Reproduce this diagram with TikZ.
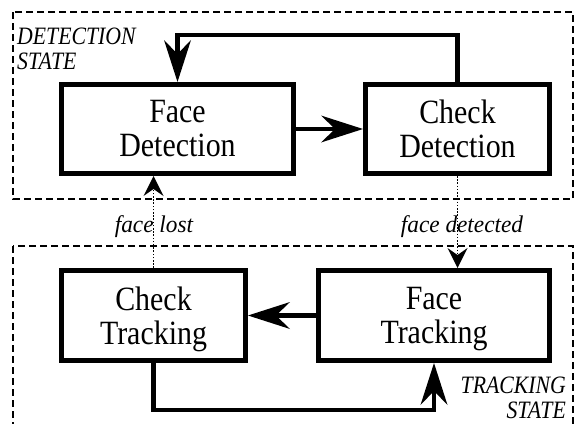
\documentclass[tikz,border=0pt]{standalone}
\usepackage{fontspec}
\setmainfont{Liberation Serif}
% slightly condensed cuts of the serif face for the block and region texts
\newfontfamily\blockfont[FakeStretch=0.88]{Liberation Serif}
\newfontfamily\regionfont[FakeStretch=0.87]{Liberation Serif}
\newfontfamily\transfont[FakeStretch=0.97]{Liberation Serif}
\usetikzlibrary{arrows.meta}

\tikzset{
  x=1pt, y=-1pt,
  stateblock/.style={draw, line width=4.7pt, fill=white, align=center,
    font=\blockfont\fontsize{34}{34}\selectfont, inner sep=0pt},
  region/.style={draw, line width=1.5pt, dash pattern=on 7pt off 4pt},
  flow/.style={line width=4.7pt,
    -{Stealth[length=42pt, width=27pt, inset=14pt, line width=0pt]}},
  trans/.style={line width=1.6pt, dash pattern=on 1.6pt off 1.6pt,
    -{Stealth[length=20pt, width=20pt, inset=7pt, line width=0pt]}},
  regionlabel/.style={font=\regionfont\itshape\fontsize{25}{25}\selectfont, inner sep=0pt},
  translabel/.style={font=\transfont\itshape\fontsize{24}{24}\selectfont, inner sep=0pt}
}

\begin{document}
\begin{tikzpicture}
  \useasboundingbox (0,0) rectangle (575,423);
  \clip (0,0) rectangle (575,423);

  % state regions
  \draw[region] (13,12) rectangle (573,199);
  \draw[region] (13,246) rectangle (573,440);

  \node[regionlabel, anchor=north west, align=left] (detlabel) at (17,28) {DETECTION\\STATE};
  \node[regionlabel, anchor=north east, align=right] (tracklabel) at (566,377) {TRACKING\\STATE};

  % blocks (descenders are kept out of the vertical centring)
  \node[stateblock, minimum width=232.3pt, minimum height=89.3pt] (fd) at (177.5,129) {Face\\Detection};
  \node[stateblock, minimum width=184.3pt, minimum height=89.3pt] (cd) at (457.5,129) {Check\\Detection};
  \node[stateblock, minimum width=184.3pt, minimum height=90.3pt] (ct) at (153.5,315.5) {Check\\Trackin\smash{g}};
  \node[stateblock, minimum width=231.3pt, minimum height=90.3pt] (ft) at (434,315.5) {Face\\Trackin\smash{g}};

  % detection loop
  \draw[flow] (fd) -- (cd);
  \draw[flow] (cd.north) -- ++(0,-47) -| (fd.north);

  % tracking loop
  \draw[flow] (ft) -- (ct);
  \draw[flow] (ct.south) -- ++(0,47) -| (ft.south);

  % transitions between the two states
  \draw[trans] (cd.south) -- (cd.south |- ft.north);
  \draw[trans] (ct.north) -- (ct.north |- fd.south);

  \node[translabel, anchor=base] (detected) at (462,232) {face detected};
  \node[translabel, anchor=base] (lost) at (154,232) {face lost};
\end{tikzpicture}
\end{document}
